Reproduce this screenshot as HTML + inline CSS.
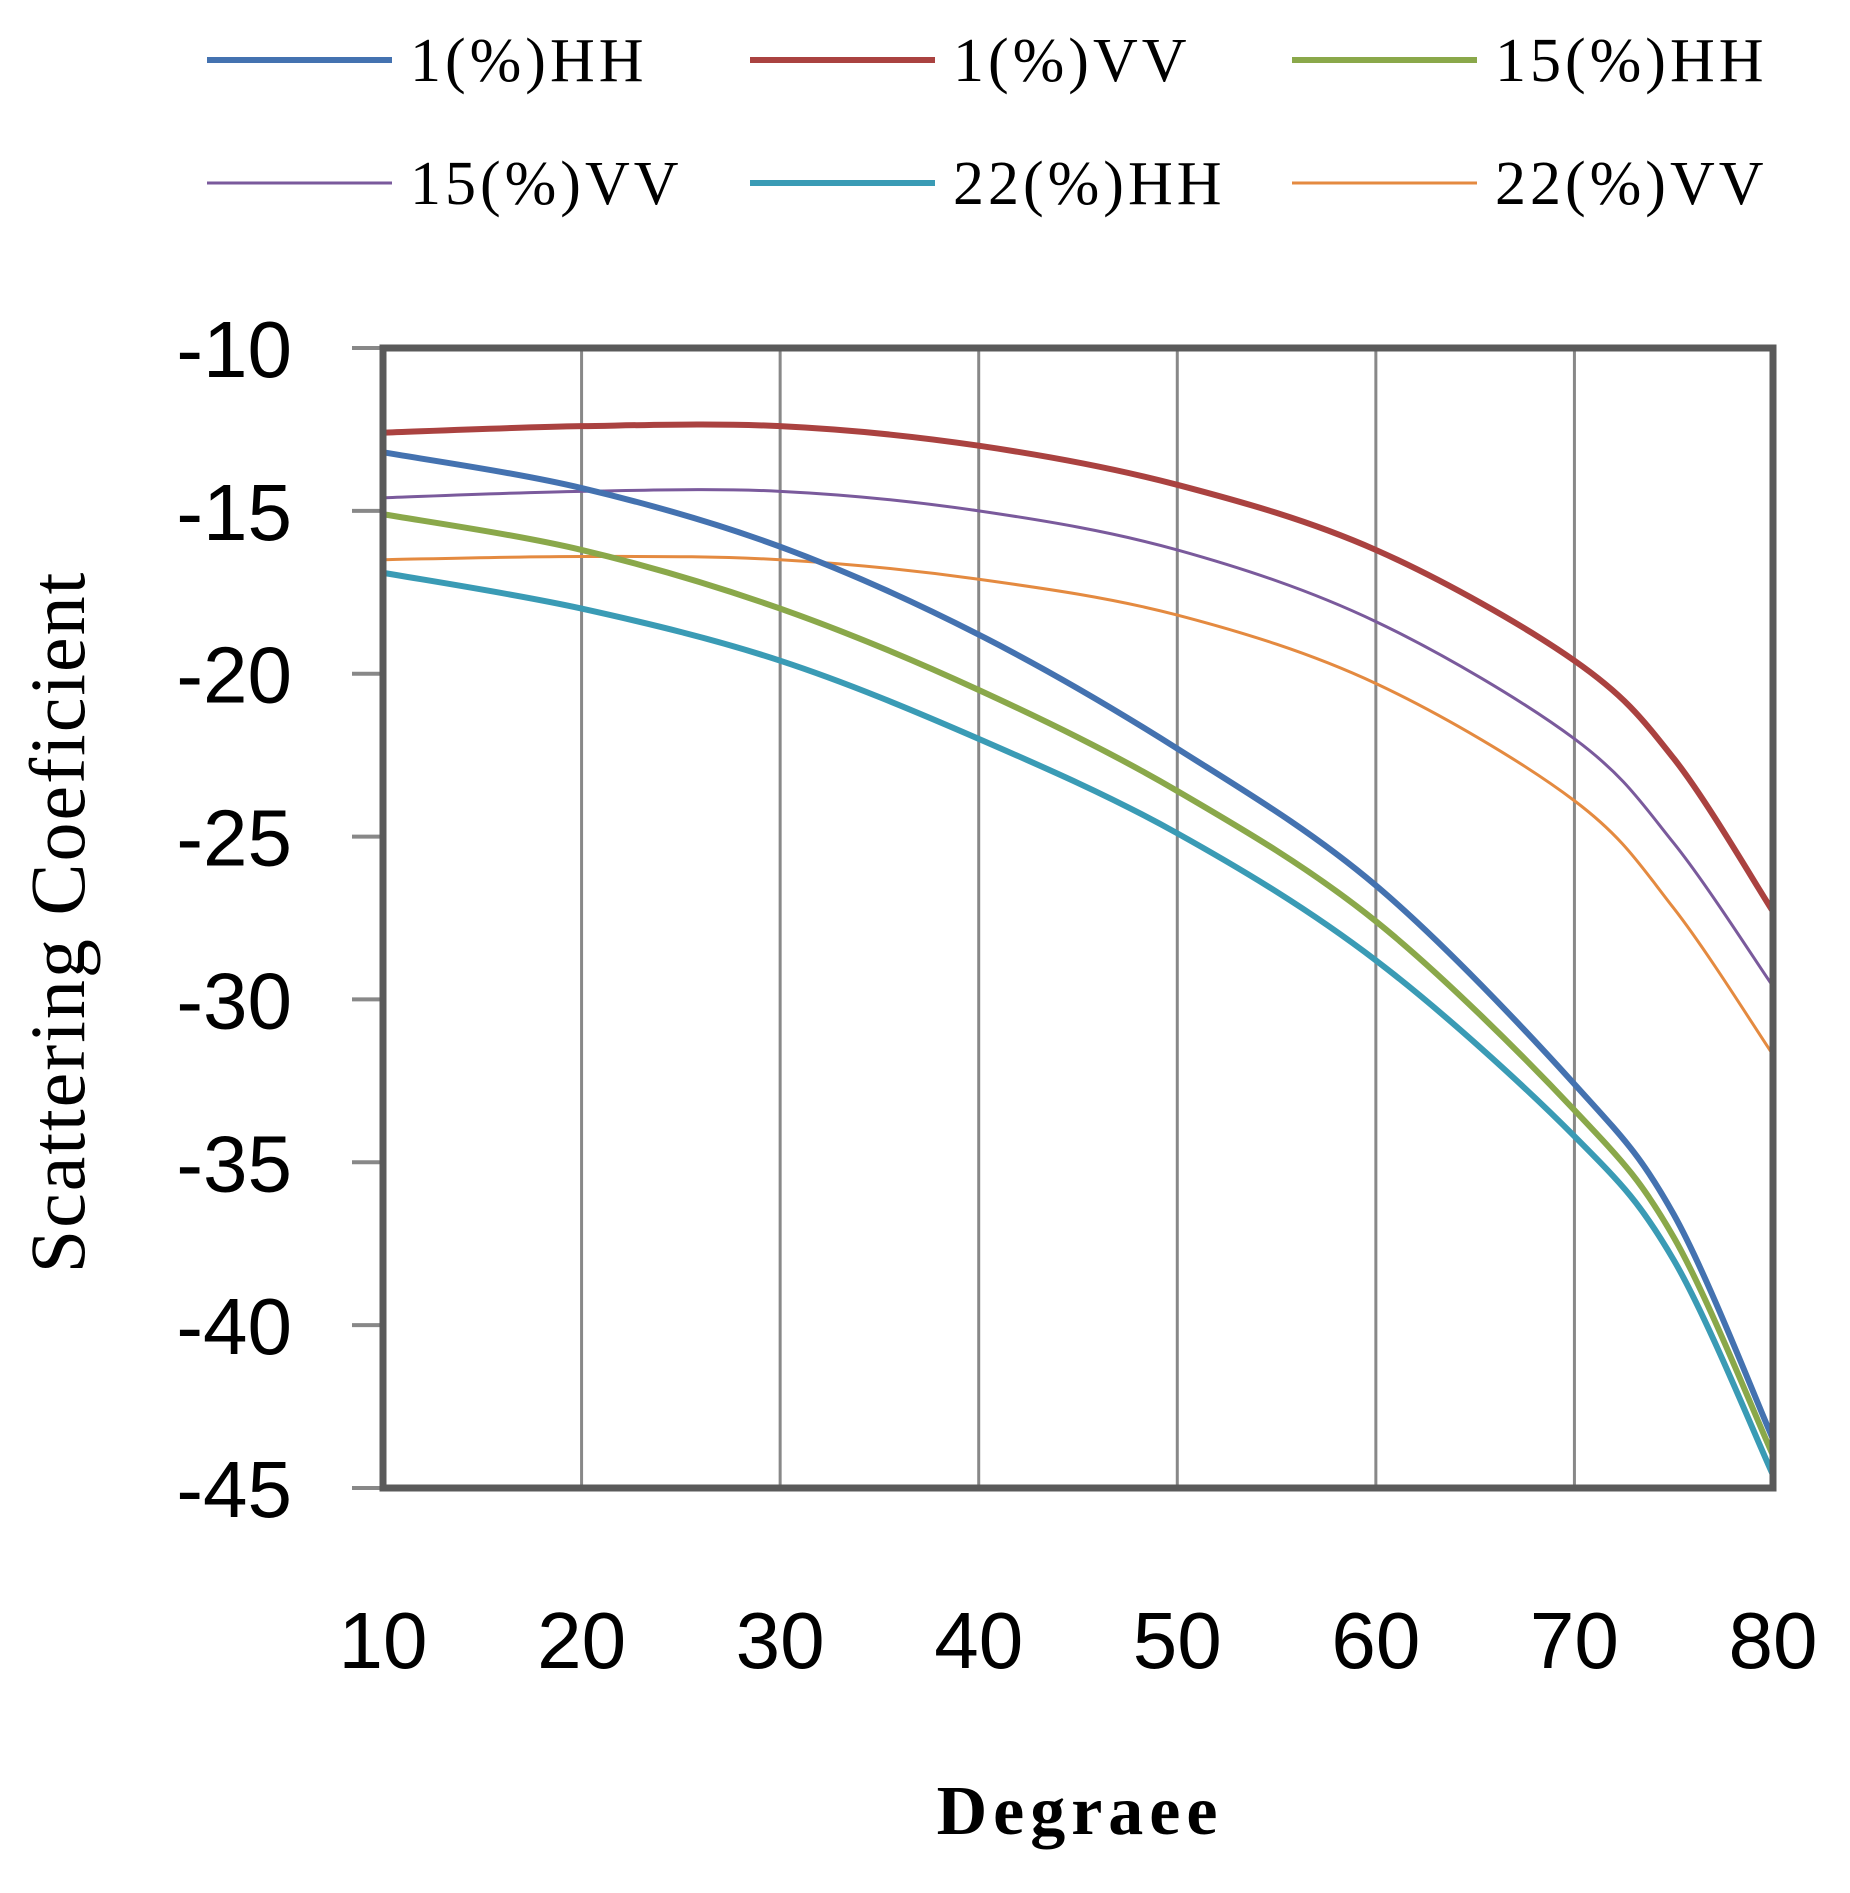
<!DOCTYPE html>
<html><head><meta charset="utf-8"><style>
html,body{margin:0;padding:0;background:#fff;}
svg{display:block}
</style></head><body>
<svg id="chart" width="1850" height="1893" viewBox="0 0 1850 1893" xmlns="http://www.w3.org/2000/svg">
<g id="grid"></g>
<g id="series"></g>
<g id="axes"></g>
<g id="legend"></g>
<text transform="translate(84,922) rotate(-90)" text-anchor="middle" font-family="Liberation Serif, serif" font-size="78" letter-spacing="2">Scattering Coeficient</text>
<text x="1080" y="1834" text-anchor="middle" font-family="Liberation Serif, serif" font-weight="bold" font-size="70" letter-spacing="6">Degraee</text>
</svg>
<script>
const xTicks=[10,20,30,40,50,60,70,80];
const yTicks=[-10,-15,-20,-25,-30,-35,-40,-45];
const xVals=[10,20,30,40,50,60,70,75,80];
const s1HH=[-13.2,-14.3,-16.1,-18.8,-22.3,-26.5,-32.6,-36.6,-43.5];
const s1VV=[-12.6,-12.4,-12.4,-13.0,-14.2,-16.2,-19.6,-22.6,-27.3];
const s15HH=[-15.1,-16.2,-18.0,-20.5,-23.6,-27.6,-33.4,-37.3,-44.0];
const s15VV=[-14.6,-14.4,-14.4,-15.0,-16.2,-18.4,-22.0,-25.2,-29.6];
const s22HH=[-16.9,-18.0,-19.6,-22.0,-24.9,-28.8,-34.2,-38.0,-44.6];
const s22VV=[-16.5,-16.4,-16.5,-17.1,-18.2,-20.3,-23.9,-27.2,-31.7];
const seriesNames=["1(%)HH","1(%)VV","15(%)HH","15(%)VV","22(%)HH","22(%)VV"];
const seriesData=[s1HH,s1VV,s15HH,s15VV,s22HH,s22VV];
const colors=["#4472b0","#aa4240","#8aa84a","#7a5a9c","#3a9bb5","#e48a40"];
const widths=[6,6,6,3,6,3];
const NS="http://www.w3.org/2000/svg";
const X0=383,X1=1773,Y0=348,Y1=1488;
const xs=v=>X0+(v-10)/70*(X1-X0);
const ys=v=>Y0+(-10-v)/35*(Y1-Y0);
function mk(tag,attrs,parent){const e=document.createElementNS(NS,tag);for(const k in attrs)e.setAttribute(k,attrs[k]);parent.appendChild(e);return e;}
const grid=document.getElementById('grid'),axes=document.getElementById('axes'),ser=document.getElementById('series'),leg=document.getElementById('legend');
xTicks.forEach(t=>{
 if(t>10&&t<80){const l=mk('line',{x1:xs(t),x2:xs(t),y1:Y0,y2:Y1,stroke:'#888','stroke-width':3},grid);
 
 }
 const tx=mk('text',{x:xs(t),y:1668,'text-anchor':'middle','font-family':'Liberation Sans, sans-serif','font-size':80},axes);
 tx.textContent=t;
 
 
});
yTicks.forEach(t=>{
 const l=mk('line',{x1:352,x2:X0,y1:ys(t),y2:ys(t),stroke:'#888','stroke-width':4},axes);
 
 
 const tx=mk('text',{x:292,y:ys(t)+29,'text-anchor':'end','font-family':'Liberation Sans, sans-serif','font-size':80},axes);
 tx.textContent=t;
 
 
});
const frame=mk('rect',{x:X0,y:Y0,width:X1-X0,height:Y1-Y0,fill:'none',stroke:'#5a5a5a','stroke-width':7},axes);


function pathFor(d){
 const p=xVals.map((x,i)=>[xs(x),ys(d[i])]);
 let s=`M${p[0][0]},${p[0][1]}`;
 for(let i=0;i<p.length-1;i++){
  const a=p[Math.max(0,i-1)],b=p[i],c=p[i+1],e=p[Math.min(p.length-1,i+2)];
  const c1=[b[0]+(c[0]-a[0])/6,b[1]+(c[1]-a[1])/6],c2=[c[0]-(e[0]-b[0])/6,c[1]-(e[1]-b[1])/6];
  s+=` C${c1[0]},${c1[1]} ${c2[0]},${c2[1]} ${c[0]},${c[1]}`;
 }
 return s;
}
const order=[5,3,1,4,2,0];
order.forEach(i=>{
 const p=mk('path',{d:pathFor(seriesData[i]),fill:'none',stroke:colors[i],'stroke-width':widths[i],'stroke-linejoin':'round'},ser);
 
 
});
const lx=[207,750,1292],ly=[60,183];
seriesNames.forEach((n,i)=>{
 const col=i%3,row=Math.floor(i/3);
 const g=mk('g',{},leg);
 
 
 mk('line',{x1:lx[col],x2:lx[col]+185,y1:ly[row],y2:ly[row],stroke:colors[i],'stroke-width':widths[i]},g);
 const t=mk('text',{x:lx[col]+203,y:ly[row]+21,'font-family':'Liberation Serif, serif','font-size':62,'letter-spacing':4},g);
 t.textContent=n;
});
</script>
</body></html>
